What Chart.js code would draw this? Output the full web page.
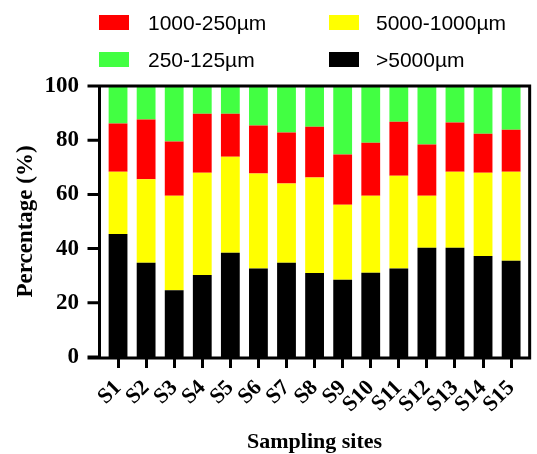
<!DOCTYPE html>
<html>
<head>
<meta charset="utf-8">
<script src="https://cdn.jsdelivr.net/npm/chart.js@4/dist/chart.umd.min.js"></script>
<style>
  html, body { margin: 0; padding: 0; background: #fff; }
  #wrap { position: relative; width: 537px; height: 454px; }
  canvas { position: absolute; left: 0; top: 0; }
  .lg-box { position: absolute; width: 30px; height: 15px; }
  .lg-txt { position: absolute; font-family: "Liberation Sans", Arial, sans-serif; font-size: 21px; line-height: 24px; color: #000; white-space: nowrap; }
</style>
</head>
<body>
<div id="wrap">
  <canvas id="c" width="537" height="454"></canvas>
  <div class="lg-box" style="left:99px;top:15px;background:#FF0000"></div>
  <div class="lg-txt" style="left:148px;top:11px">1000-250µm</div>
  <div class="lg-box" style="left:329px;top:15px;background:#FFFF00"></div>
  <div class="lg-txt" style="left:376px;top:11px">5000-1000µm</div>
  <div class="lg-box" style="left:99px;top:52px;background:#42FF42"></div>
  <div class="lg-txt" style="left:148px;top:48px">250-125µm</div>
  <div class="lg-box" style="left:329px;top:52px;background:#000000"></div>
  <div class="lg-txt" style="left:376px;top:48px">&gt;5000µm</div>
</div>
<script>
const sites = ["S1","S2","S3","S4","S5","S6","S7","S8","S9","S10","S11","S12","S13","S14","S15"];
const over5000   = [45.4,34.8,24.6,30.3,38.5,32.7,34.8,31.0,28.5,31.1,32.7,40.3,40.3,37.3,35.5];
const r5000_1000 = [23.0,30.8,34.9,37.7,35.4,35.0,29.2,35.2,27.7,28.4,34.2,19.2,28.1,30.7,32.9];
const r1000_250  = [17.8,22.0,20.0,21.8,15.9,17.7,18.8,18.8,18.5,19.6,19.9,18.9,18.1,14.4,15.5];
const r250_125   = [13.8,12.4,20.5,10.2,10.2,14.6,17.2,15.0,25.3,20.9,13.2,21.6,13.5,17.6,16.1];
const yTicks = [0,20,40,60,80,100];

const framePlugin = {
  id: 'frame',
  afterDatasetsDraw(chart) {
    const ctx = chart.ctx, ca = chart.chartArea, y = chart.scales.y;
    const L = ca.left - 4.5, R = ca.right + 4.5;
    const T = y.getPixelForValue(100), B = y.getPixelForValue(0) + 1;
    ctx.save();
    ctx.strokeStyle = '#000';
    ctx.lineWidth = 3;
    ctx.lineCap = 'butt';
    ctx.beginPath();
    ctx.moveTo(L, T); ctx.lineTo(R, T);
    ctx.moveTo(R, T - 1.5); ctx.lineTo(R, B + 1.5);
    ctx.moveTo(L - 12, B); ctx.lineTo(R + 1.5, B);
    ctx.moveTo(L, T - 1.5); ctx.lineTo(L, B + 1.5);
    yTicks.forEach(v => {
      const py = y.getPixelForValue(v);
      ctx.moveTo(L - 12, py); ctx.lineTo(L, py);
    });
    ctx.stroke();
    ctx.restore();
  }
};

const serif = '"Liberation Serif", "Times New Roman", serif';

new Chart(document.getElementById('c'), {
  type: 'bar',
  data: {
    labels: sites,
    datasets: [
      { label: '>5000µm', data: over5000, backgroundColor: '#000000' },
      { label: '5000-1000µm', data: r5000_1000, backgroundColor: '#FFFF00' },
      { label: '1000-250µm', data: r1000_250, backgroundColor: '#FF0000' },
      { label: '250-125µm', data: r250_125, backgroundColor: '#42FF42' }
    ]
  },
  options: {
    responsive: false,
    animation: false,
    devicePixelRatio: 1,
    layout: { padding: { top: 86, right: 6, left: 0, bottom: 0 } },
    datasets: { bar: { categoryPercentage: 1, barPercentage: 0.67, borderWidth: 0 } },
    plugins: { legend: { display: false }, tooltip: { enabled: false } },
    scales: {
      x: {
        stacked: true,
        afterFit(s) { s.height = 97; },
        grid: { display: true, drawOnChartArea: false, drawTicks: true, tickLength: 11, lineWidth: 3, color: '#000', offset: false },
        border: { display: false },
        ticks: { color: '#000', minRotation: 45, maxRotation: 45, padding: 7, autoSkip: false,
                  font: { family: serif, size: 22, weight: 'bold' } },
        title: { display: true, text: 'Sampling sites', color: '#000', padding: { top: 0, bottom: 0 },
                 font: { family: serif, size: 22, weight: 'bold', lineHeight: 1.1 } }
      },
      y: {
        stacked: true,
        min: 0, max: 100,
        afterFit(s) { s.width = 104; },
        afterBuildTicks(s) { s.ticks = yTicks.map(v => ({ value: v })); },
        grid: { display: false },
        border: { display: false },
        ticks: { color: '#000', padding: 17,
                 font: { family: serif, size: 23, weight: 'bold' } },
        title: { display: true, text: 'Percentage (%)', color: '#000', padding: { top: 12, bottom: 0 },
                 font: { family: serif, size: 23, weight: 'bold' } }
      }
    }
  },
  plugins: [framePlugin]
});
</script>
</body>
</html>
